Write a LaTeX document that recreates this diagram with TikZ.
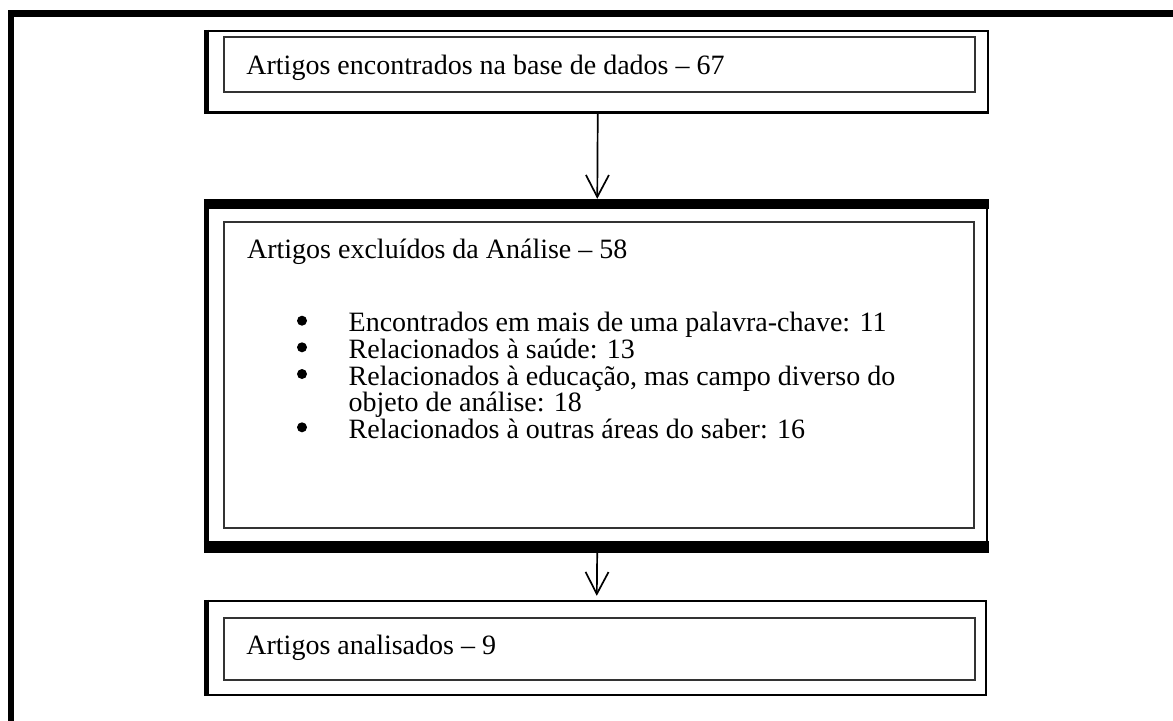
\documentclass[tikz,border=0pt]{standalone}
\usepackage{fontspec}
\setmainfont{Liberation Serif}
\usetikzlibrary{arrows.meta}

\tikzset{
  outerbox/.style={draw, line width=1.2pt, inner sep=0pt},
  innerbox/.style={draw=black!80, line width=0.6pt, inner sep=0pt},
  txt/.style={anchor=base west, inner sep=0pt},
  marca/.style={circle, fill, inner sep=0pt, minimum size=5pt},
  seta/.style={line width=0.85pt, -{Straight Barb[length=11pt,width=11.5pt]}}
}
\def\xb{302}
\def\xt{348.3}

\begin{document}
\begin{tikzpicture}[x=0.5pt, y=-0.5pt, font=\fontsize{14}{16}\selectfont]
\useasboundingbox (0,0) rectangle (1173,720);
\clip (0,0) rectangle (1173,720);
% moldura
\draw[line width=3.25pt, line join=miter] (11,800) -- (11,13.5) -- (1300,13.5);

% caixas
\node[outerbox, minimum width=390.25pt, minimum height=40.75pt] (encontrados) at (597.75,71.75) {};
\draw[line width=2.5pt] (encontrados.north west) -- (encontrados.south west);
\node[innerbox, minimum width=375.5pt, minimum height=27.5pt] (encontradosin) at (599.5,64.5) {};

\node[outerbox, minimum width=389.75pt, minimum height=170.5pt] (excluidos) at (597.25,375.5) {};
\draw[line width=2.5pt] (excluidos.north west) -- (excluidos.south west);
\draw[line width=5pt] ([xshift=-1.25pt]excluidos.north west) -- ([xshift=0.6pt]excluidos.north east);
\draw[line width=6pt] ([xshift=-1.25pt]excluidos.south west) -- ([xshift=0.6pt]excluidos.south east);
\node[innerbox, minimum width=375pt, minimum height=153pt] (excluidosin) at (599,375) {};

\node[outerbox, minimum width=389.25pt, minimum height=47pt] (analisados) at (596.75,648) {};
\draw[line width=2.5pt] (analisados.north west) -- (analisados.south west);
\node[innerbox, minimum width=375.5pt, minimum height=31pt] (analisadosin) at (599.5,649) {};

% textos
\node[txt] (t1) at (246,74) {Artigos encontrados na base de dados – 67};
\node[txt] (t2) at (246.7,258) {Artigos excluídos da Análise – 58};
\node[txt] (t3) at (246,654) {Artigos analisados – 9};

\foreach \y/\item [count=\i] in {331.7/{Encontrados em mais de uma palavra-chave: 11},
    358.3/{Relacionados à saúde: 13},
    385/{Relacionados à educação, mas campo diverso do},
    438.3/{Relacionados à outras áreas do saber: 16}} {
  \node[marca] (b\i) at (\xb,\y-11) {};
  \node[txt] (i\i) at (\xt,\y) {\item};
}
\node[txt] (i3b) at (\xt,411.7) {objeto de análise: 18};

% setas
\draw[seta, shorten >=2.5pt] (encontrados.south) -- (excluidos.north);
\draw[seta, shorten <=3pt, shorten >=2pt] (excluidos.south) -- (analisados.north);
\end{tikzpicture}
\end{document}
